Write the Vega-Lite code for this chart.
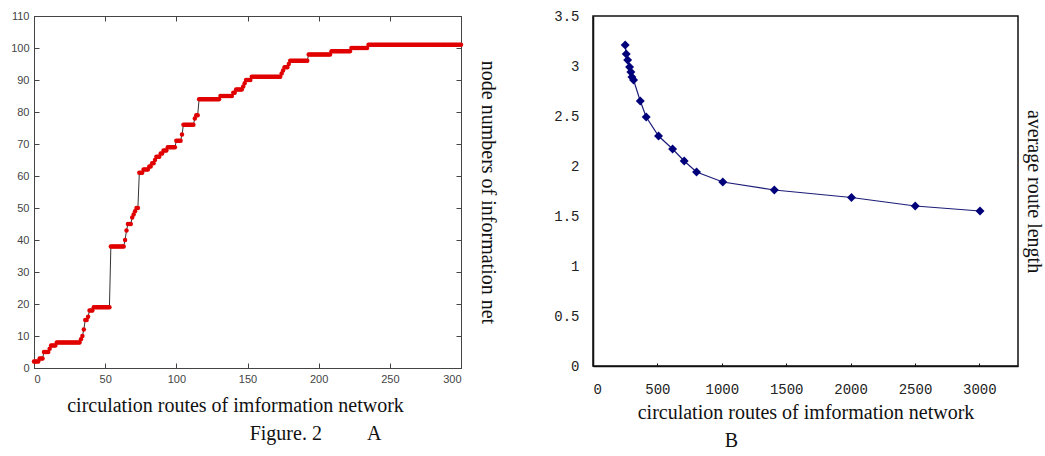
{
  "$schema": "https://vega.github.io/schema/vega-lite/v6.json",
  "background": "white",
  "padding": {"left": 10, "top": 8, "right": 0, "bottom": 0},
  "spacing": 55,
  "config": {"font": "Liberation Serif", "axis": {"grid": false}},
  "hconcat": [
    {
      "width": 427,
      "height": 352,
      "view": {"stroke": "#444", "strokeWidth": 1},
      "title": {"text": "Figure. 2\u00a0\u00a0\u00a0\u00a0\u00a0\u00a0\u00a0\u00a0\u00a0A", "orient": "bottom", "anchor": "middle", "frame": "group", "dx": 68, "offset": 9, "font": "Liberation Serif", "fontSize": 20, "fontWeight": "normal", "color": "#111"},
      "data": {"values": [
        {"x":0,"y":2},{"x":1,"y":2},{"x":2,"y":2},{"x":3,"y":2},
        {"x":4,"y":3},{"x":5,"y":3},{"x":6,"y":3},
        {"x":7,"y":5},{"x":8,"y":5},{"x":9,"y":5},{"x":10,"y":5},
        {"x":11,"y":6},
        {"x":12,"y":7},{"x":13,"y":7},{"x":14,"y":7},{"x":15,"y":7},
        {"x":16,"y":8},{"x":17,"y":8},{"x":18,"y":8},{"x":19,"y":8},{"x":20,"y":8},{"x":21,"y":8},{"x":22,"y":8},{"x":23,"y":8},{"x":24,"y":8},{"x":25,"y":8},{"x":26,"y":8},{"x":27,"y":8},{"x":28,"y":8},{"x":29,"y":8},{"x":30,"y":8},{"x":31,"y":8},{"x":32,"y":8},
        {"x":33,"y":9},{"x":34,"y":10},{"x":35,"y":12},{"x":36,"y":15},{"x":37,"y":15},{"x":38,"y":16},{"x":39,"y":18},{"x":40,"y":18},{"x":41,"y":18},
        {"x":42,"y":19},{"x":43,"y":19},{"x":44,"y":19},{"x":45,"y":19},{"x":46,"y":19},{"x":47,"y":19},{"x":48,"y":19},{"x":49,"y":19},{"x":50,"y":19},{"x":51,"y":19},{"x":52,"y":19},{"x":53,"y":19},
        {"x":54,"y":38},{"x":55,"y":38},{"x":56,"y":38},{"x":57,"y":38},{"x":58,"y":38},{"x":59,"y":38},{"x":60,"y":38},{"x":61,"y":38},{"x":62,"y":38},{"x":63,"y":38},
        {"x":64,"y":40},{"x":65,"y":43},{"x":66,"y":45},{"x":67,"y":45},{"x":68,"y":45},{"x":69,"y":47},{"x":70,"y":48},{"x":71,"y":49},{"x":72,"y":50},{"x":73,"y":50},
        {"x":74,"y":61},{"x":75,"y":61},{"x":76,"y":61},{"x":77,"y":62},{"x":78,"y":62},{"x":79,"y":62},{"x":80,"y":62},{"x":81,"y":63},{"x":82,"y":63},{"x":83,"y":64},{"x":84,"y":64},{"x":85,"y":65},{"x":86,"y":66},{"x":87,"y":66},{"x":88,"y":66},{"x":89,"y":67},{"x":90,"y":67},{"x":91,"y":68},{"x":92,"y":68},{"x":93,"y":68},
        {"x":94,"y":69},{"x":95,"y":69},{"x":96,"y":69},{"x":97,"y":69},{"x":98,"y":69},{"x":99,"y":69},
        {"x":100,"y":71},{"x":101,"y":71},{"x":102,"y":71},{"x":103,"y":71},{"x":104,"y":73},
        {"x":105,"y":76},{"x":106,"y":76},{"x":107,"y":76},{"x":108,"y":76},{"x":109,"y":76},{"x":110,"y":76},{"x":111,"y":76},{"x":112,"y":76},
        {"x":113,"y":78},{"x":114,"y":79},{"x":115,"y":79},
        {"x":116,"y":84},{"x":117,"y":84},{"x":118,"y":84},{"x":119,"y":84},{"x":120,"y":84},{"x":121,"y":84},{"x":122,"y":84},{"x":123,"y":84},{"x":124,"y":84},{"x":125,"y":84},{"x":126,"y":84},{"x":127,"y":84},{"x":128,"y":84},{"x":129,"y":84},{"x":130,"y":84},
        {"x":131,"y":85},{"x":132,"y":85},{"x":133,"y":85},{"x":134,"y":85},{"x":135,"y":85},{"x":136,"y":85},{"x":137,"y":85},{"x":138,"y":85},{"x":139,"y":85},
        {"x":140,"y":86},{"x":141,"y":86},
        {"x":142,"y":87},{"x":143,"y":87},{"x":144,"y":87},{"x":145,"y":87},{"x":146,"y":87},{"x":147,"y":88},{"x":148,"y":89},
        {"x":149,"y":90},{"x":150,"y":90},{"x":151,"y":90},{"x":152,"y":90},
        {"x":153,"y":91},{"x":154,"y":91},{"x":155,"y":91},{"x":156,"y":91},{"x":157,"y":91},{"x":158,"y":91},{"x":159,"y":91},{"x":160,"y":91},{"x":161,"y":91},{"x":162,"y":91},{"x":163,"y":91},{"x":164,"y":91},{"x":165,"y":91},{"x":166,"y":91},{"x":167,"y":91},{"x":168,"y":91},{"x":169,"y":91},{"x":170,"y":91},{"x":171,"y":91},{"x":172,"y":91},{"x":173,"y":91},
        {"x":174,"y":92},{"x":175,"y":93},{"x":176,"y":94},{"x":177,"y":94},{"x":178,"y":94},{"x":179,"y":95},
        {"x":180,"y":96},{"x":181,"y":96},{"x":182,"y":96},{"x":183,"y":96},{"x":184,"y":96},{"x":185,"y":96},{"x":186,"y":96},{"x":187,"y":96},{"x":188,"y":96},{"x":189,"y":96},{"x":190,"y":96},{"x":191,"y":96},{"x":192,"y":96},
        {"x":193,"y":98},{"x":194,"y":98},{"x":195,"y":98},{"x":196,"y":98},{"x":197,"y":98},{"x":198,"y":98},{"x":199,"y":98},{"x":200,"y":98},{"x":201,"y":98},{"x":202,"y":98},{"x":203,"y":98},{"x":204,"y":98},{"x":205,"y":98},{"x":206,"y":98},{"x":207,"y":98},{"x":208,"y":98},
        {"x":209,"y":99},{"x":210,"y":99},{"x":211,"y":99},{"x":212,"y":99},{"x":213,"y":99},{"x":214,"y":99},{"x":215,"y":99},{"x":216,"y":99},{"x":217,"y":99},{"x":218,"y":99},{"x":219,"y":99},{"x":220,"y":99},{"x":221,"y":99},{"x":222,"y":99},
        {"x":223,"y":100},{"x":224,"y":100},{"x":225,"y":100},{"x":226,"y":100},{"x":227,"y":100},{"x":228,"y":100},{"x":229,"y":100},{"x":230,"y":100},{"x":231,"y":100},{"x":232,"y":100},{"x":233,"y":100},{"x":234,"y":100},
        {"x":235,"y":101},{"x":236,"y":101},{"x":237,"y":101},{"x":238,"y":101},{"x":239,"y":101},{"x":240,"y":101},{"x":241,"y":101},{"x":242,"y":101},{"x":243,"y":101},{"x":244,"y":101},{"x":245,"y":101},{"x":246,"y":101},{"x":247,"y":101},{"x":248,"y":101},{"x":249,"y":101},{"x":250,"y":101},
        {"x":251,"y":101},{"x":252,"y":101},{"x":253,"y":101},{"x":254,"y":101},{"x":255,"y":101},{"x":256,"y":101},{"x":257,"y":101},{"x":258,"y":101},{"x":259,"y":101},{"x":260,"y":101},{"x":261,"y":101},{"x":262,"y":101},{"x":263,"y":101},{"x":264,"y":101},{"x":265,"y":101},{"x":266,"y":101},{"x":267,"y":101},{"x":268,"y":101},{"x":269,"y":101},{"x":270,"y":101},
        {"x":271,"y":101},{"x":272,"y":101},{"x":273,"y":101},{"x":274,"y":101},{"x":275,"y":101},{"x":276,"y":101},{"x":277,"y":101},{"x":278,"y":101},{"x":279,"y":101},{"x":280,"y":101},{"x":281,"y":101},{"x":282,"y":101},{"x":283,"y":101},{"x":284,"y":101},{"x":285,"y":101},{"x":286,"y":101},{"x":287,"y":101},{"x":288,"y":101},{"x":289,"y":101},{"x":290,"y":101},
        {"x":291,"y":101},{"x":292,"y":101},{"x":293,"y":101},{"x":294,"y":101},{"x":295,"y":101},{"x":296,"y":101},{"x":297,"y":101},{"x":298,"y":101},{"x":299,"y":101},{"x":300,"y":101}
      ]},
      "layer": [
        {
          "mark": {"type": "line", "color": "#333", "strokeWidth": 1},
          "encoding": {
            "x": {"field": "x", "type": "quantitative", "scale": {"domain": [0, 300], "nice": false},
              "axis": {"orient": "bottom", "values": [0,50,100,150,200,250,300], "tickSize": -5, "tickColor": "#444", "domainColor": "#444", "labelPadding": 10, "labelFont": "Liberation Sans", "labelFontSize": 11, "labelColor": "#444", "title": "circulation routes of imformation network", "titleFont": "Liberation Serif", "titleFontSize": 20, "titleFontWeight": "normal", "titleColor": "#111", "titlePadding": 11, "titleX": 201}},
            "y": {"field": "y", "type": "quantitative", "scale": {"domain": [0, 110], "nice": false},
              "axis": {"orient": "left", "values": [0,10,20,30,40,50,60,70,80,90,100,110], "tickSize": -5, "tickColor": "#444", "domainColor": "#444", "labelPadding": 10, "labelFont": "Liberation Sans", "labelFontSize": 11, "labelColor": "#444", "title": null}}
          }
        },
        {
          "mark": {"type": "point", "filled": true, "color": "#e00000", "size": 20, "opacity": 1},
          "encoding": {
            "x": {"field": "x", "type": "quantitative", "scale": {"domain": [0, 300], "nice": false},
              "axis": {"orient": "top", "values": [0,50,100,150,200,250,300], "tickSize": -5, "tickColor": "#444", "domainColor": "#444", "labels": false, "title": null}},
            "y": {"field": "y", "type": "quantitative", "scale": {"domain": [0, 110], "nice": false},
              "axis": {"orient": "right", "values": [0,10,20,30,40,50,60,70,80,90,100,110], "tickSize": -5, "tickColor": "#444", "domainColor": "#444", "labels": false, "title": "node numbers of information net", "titleFont": "Liberation Serif", "titleFontSize": 20, "titleFontWeight": "normal", "titleColor": "#111", "titlePadding": 16}}
          }
        }
      ],
      "resolve": {"axis": {"x": "independent", "y": "independent"}}
    },
    {
      "width": 425,
      "height": 350,
      "view": {"stroke": "#111", "strokeWidth": 1.5},
      "title": {"text": "B", "orient": "bottom", "anchor": "middle", "frame": "group", "dx": -74, "offset": 9, "font": "Liberation Serif", "fontSize": 20, "fontWeight": "normal", "color": "#111"},
      "data": {"values": [
        {"x":250,"y":3.21},{"x":258,"y":3.12},{"x":269,"y":3.06},{"x":284,"y":2.99},{"x":294,"y":2.94},{"x":302,"y":2.89},{"x":315,"y":2.86},{"x":367,"y":2.65},{"x":413,"y":2.49},{"x":509,"y":2.30},{"x":618,"y":2.17},{"x":708,"y":2.05},{"x":804,"y":1.94},{"x":1008,"y":1.84},{"x":1408,"y":1.76},{"x":2007,"y":1.685},{"x":2502,"y":1.60},{"x":3005,"y":1.55}
      ]},
      "layer": [
        {
          "mark": {"type": "line", "color": "#1c1c78", "strokeWidth": 1.2},
          "encoding": {
            "x": {"field": "x", "type": "quantitative", "scale": {"domain": [0, 3300], "nice": false},
              "axis": {"orient": "bottom", "values": [0,500,1000,1500,2000,2500,3000], "format": "d", "tickSize": -3, "tickColor": "#111", "domainColor": "#111", "domainWidth": 1.5, "labelPadding": 19, "labelFont": "Liberation Mono", "labelFontSize": 14, "labelColor": "#222", "title": "circulation routes of imformation network", "titleFont": "Liberation Serif", "titleFontSize": 20, "titleFontWeight": "normal", "titleColor": "#111", "titlePadding": 6}},
            "y": {"field": "y", "type": "quantitative", "scale": {"domain": [0, 3.5], "nice": false},
              "axis": {"orient": "left", "values": [0,0.5,1,1.5,2,2.5,3,3.5], "format": "~g", "ticks": false, "domainColor": "#111", "domainWidth": 1.5, "labelPadding": 14, "labelFont": "Liberation Mono", "labelFontSize": 14, "labelColor": "#222", "title": null}}
          }
        },
        {
          "mark": {"type": "point", "shape": "diamond", "filled": true, "color": "#00007a", "size": 80, "opacity": 1},
          "encoding": {
            "x": {"field": "x", "type": "quantitative", "scale": {"domain": [0, 3300], "nice": false},
              "axis": {"orient": "bottom", "values": [0,500,1000,1500,2000,2500,3000], "format": "d", "tickSize": -3, "tickColor": "#111", "domainColor": "#111", "domainWidth": 1.5, "labelPadding": 19, "labelFont": "Liberation Mono", "labelFontSize": 14, "labelColor": "#222", "title": "circulation routes of imformation network", "titleFont": "Liberation Serif", "titleFontSize": 20, "titleFontWeight": "normal", "titleColor": "#111", "titlePadding": 6}},
            "y": {"field": "y", "type": "quantitative", "scale": {"domain": [0, 3.5], "nice": false},
              "axis": {"orient": "right", "labels": false, "ticks": false, "domain": false, "title": "average route length", "titleFont": "Liberation Serif", "titleFontSize": 20, "titleFontWeight": "normal", "titleColor": "#111", "titlePadding": 5}}
          }
        }
      ],
      "resolve": {"axis": {"y": "independent"}}
    }
  ]
}
